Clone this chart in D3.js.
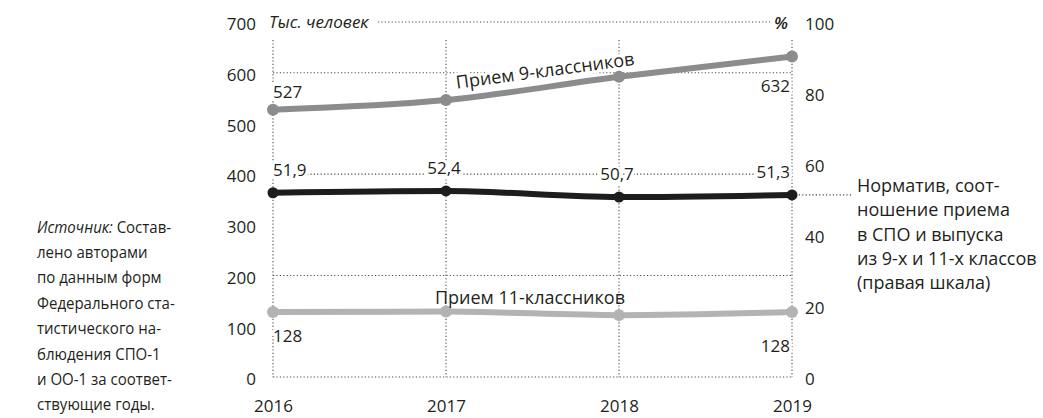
<!DOCTYPE html>
<html><head><meta charset="utf-8">
<script src="https://cdn.jsdelivr.net/npm/d3@7"></script>
<style>
body{margin:0;background:#fff;}
svg text{font-family:"Open Sans","Noto Sans",sans-serif;fill:#231f20;}
</style></head>
<body><svg id="c" width="1043" height="418"></svg>
<script>
const years = [2016, 2017, 2018, 2019];
const admit9 = [527, 546, 592, 632];
const admit11 = [128, 129, 122, 128];
const ratio = [51.9, 52.4, 50.7, 51.3];
const leftTicks = [0, 100, 200, 300, 400, 500, 600, 700];
const rightTicks = [0, 20, 40, 60, 80, 100];
const gridLeft = [0, 200, 400, 600];
const labels9 = ["527", "", "", "632"];
const labels11 = ["128", "", "", "128"];
const labelsR = ["51,9", "52,4", "50,7", "51,3"];
const sourceLines = [
  ["Источник:", " Состав-"], ["", "лено авторами"], ["", "по данным форм"],
  ["", "Федерального ста-"], ["", "тистического на-"], ["", "блюдения СПО-1"],
  ["", "и ОО-1 за соответ-"], ["", "ствующие годы."]
];
const noteLines = ["Норматив, соот-", "ношение приема", "в СПО и выпуска", "из 9-х и 11-х классов", "(правая шкала)"];

const svg = d3.select("#c");
const x = d3.scalePoint().domain(years).range([273, 792]);
const yL = d3.scaleLinear().domain([0, 700]).range([377, 22]);
const yR = d3.scaleLinear().domain([0, 100]).range([377, 22]);
const FS = 17;
const dot = {stroke:"#4a4a4a", "stroke-width":1.1, "stroke-dasharray":"1.2,2.2"};
function applyAttrs(sel, a){ for (const k in a) sel.attr(k, a[k]); return sel; }

const grid = svg.append("g");
gridLeft.forEach(v => {
  applyAttrs(grid.append("line").attr("x1", x(2016)).attr("x2", x(2019)).attr("y1", yL(v)).attr("y2", yL(v)), dot);
});
applyAttrs(grid.append("line").attr("x1", 378).attr("x2", 770).attr("y1", yL(700)).attr("y2", yL(700)), dot);
years.forEach(yv => {
  applyAttrs(grid.append("line").attr("x1", x(yv)).attr("x2", x(yv)).attr("y1", 40).attr("y2", yL(0)), dot);
});
applyAttrs(grid.append("line").attr("x1", x(2019)).attr("x2", 852).attr("y1", yR(ratio[3])).attr("y2", yR(ratio[3])), dot);

const axL = svg.append("g").attr("transform", "translate(256,0)")
  .call(d3.axisLeft(yL).tickValues(leftTicks).tickSize(0).tickPadding(0));
axL.select(".domain").remove();
axL.selectAll("text").style("font-size", FS + "px").attr("dy", "0.34em").attr("transform","translate(0,2)");
const axR = svg.append("g").attr("transform", "translate(805,0)")
  .call(d3.axisRight(yR).tickValues(rightTicks).tickSize(0).tickPadding(0));
axR.select(".domain").remove();
axR.selectAll("text").style("font-size", FS + "px").style("font-weight", 500).attr("dy", "0.34em").attr("transform","translate(0,2)");
const axB = svg.append("g").attr("transform", "translate(0,395)")
  .call(d3.axisBottom(x).tickSize(0).tickPadding(0));
axB.select(".domain").remove();
axB.selectAll("text").style("font-size", FS + "px").attr("dy", "0.34em").attr("y", 11);

svg.append("text").attr("x", 269).attr("y", yL(700)).attr("dy", "0.34em")
  .style("font-size", FS + "px").style("font-style", "italic").text("Тыс. человек");
svg.append("text").attr("x", 788).attr("y", yL(700) + 1).attr("dy", "0.34em").attr("text-anchor", "end")
  .style("font-size", FS + "px").style("font-style", "italic").style("font-weight", 600).text("%");

const curve = d3.curveMonotoneX;
const idx = d3.range(years.length);
function series(vals, scale, color, w, r){
  const line = d3.line().x(i => x(years[i])).y(i => scale(vals[i])).curve(curve);
  svg.append("path").attr("d", line(idx)).attr("fill", "none").attr("stroke", color).attr("stroke-width", w);
  svg.selectAll(null).data(idx).enter().append("circle")
    .attr("cx", i => x(years[i])).attr("cy", i => scale(vals[i])).attr("r", r).attr("fill", color);
}
series(admit11, yL, "#b2b3b5", 6, 6);
series(admit9, yL, "#8b8c8e", 6, 6);
series(ratio, yR, "#1f1c1d", 6, 5.5);

function label(xp, yp, txt, anchor){
  if (!txt) return;
  svg.append("text").attr("x", xp).attr("y", yp).attr("dy", "0.34em").attr("text-anchor", anchor)
    .style("font-size", FS + "px").style("paint-order", "stroke").attr("stroke", "#fff").attr("stroke-width", 6)
    .attr("stroke-linejoin", "round").text(txt);
}
label(x(2016), 92, labels9[0], "start");
label(x(2019) - 2, 86, labels9[3], "end");
label(x(2016), 336, labels11[0], "start");
label(x(2019) - 2, 346, labels11[3], "end");
labelsR.forEach((t, i) => {
  const anchor = i === 0 ? "start" : (i === 3 ? "end" : "middle");
  const dx = i === 0 ? 0 : -2;
  label(x(years[i]) + dx, yR(ratio[i]) - 23, t, anchor);
});

const a1 = x(2017), a2 = x(2018);
const ang = Math.atan2(yL(admit9[2]) - yL(admit9[1]), a2 - a1) * 180 / Math.PI;
const mx = 545, my = yL(admit9[1]) + (yL(admit9[2]) - yL(admit9[1])) * (mx - a1) / (a2 - a1) - 16;
svg.append("text").attr("transform", `translate(${mx},${my}) rotate(${ang})`).attr("text-anchor", "middle")
  .attr("dy", "0.34em").style("font-size", "18px")
  .style("paint-order", "stroke").attr("stroke", "#fff").attr("stroke-width", 6).attr("stroke-linejoin","round")
  .text("Прием 9-классников");
svg.append("text").attr("x", 530).attr("y", 298).attr("text-anchor", "middle").attr("dy", "0.34em")
  .style("font-size", "18px").text("Прием 11-классников");

const src = svg.append("g").attr("transform", "translate(37,0) scale(0.91,1)");
sourceLines.forEach((l, i) => {
  const t = src.append("text").attr("x", 0).attr("y", 227 + i * 25.4).attr("dy", "0.34em").style("font-size", "16.5px");
  if (l[0]) t.append("tspan").style("font-style", "italic").text(l[0]);
  t.append("tspan").text(l[1]);
});
noteLines.forEach((l, i) => {
  svg.append("text").attr("x", 857).attr("y", 186 + i * 24.2).attr("dy", "0.34em").style("font-size", "18px").text(l);
});
</script></body></html>
